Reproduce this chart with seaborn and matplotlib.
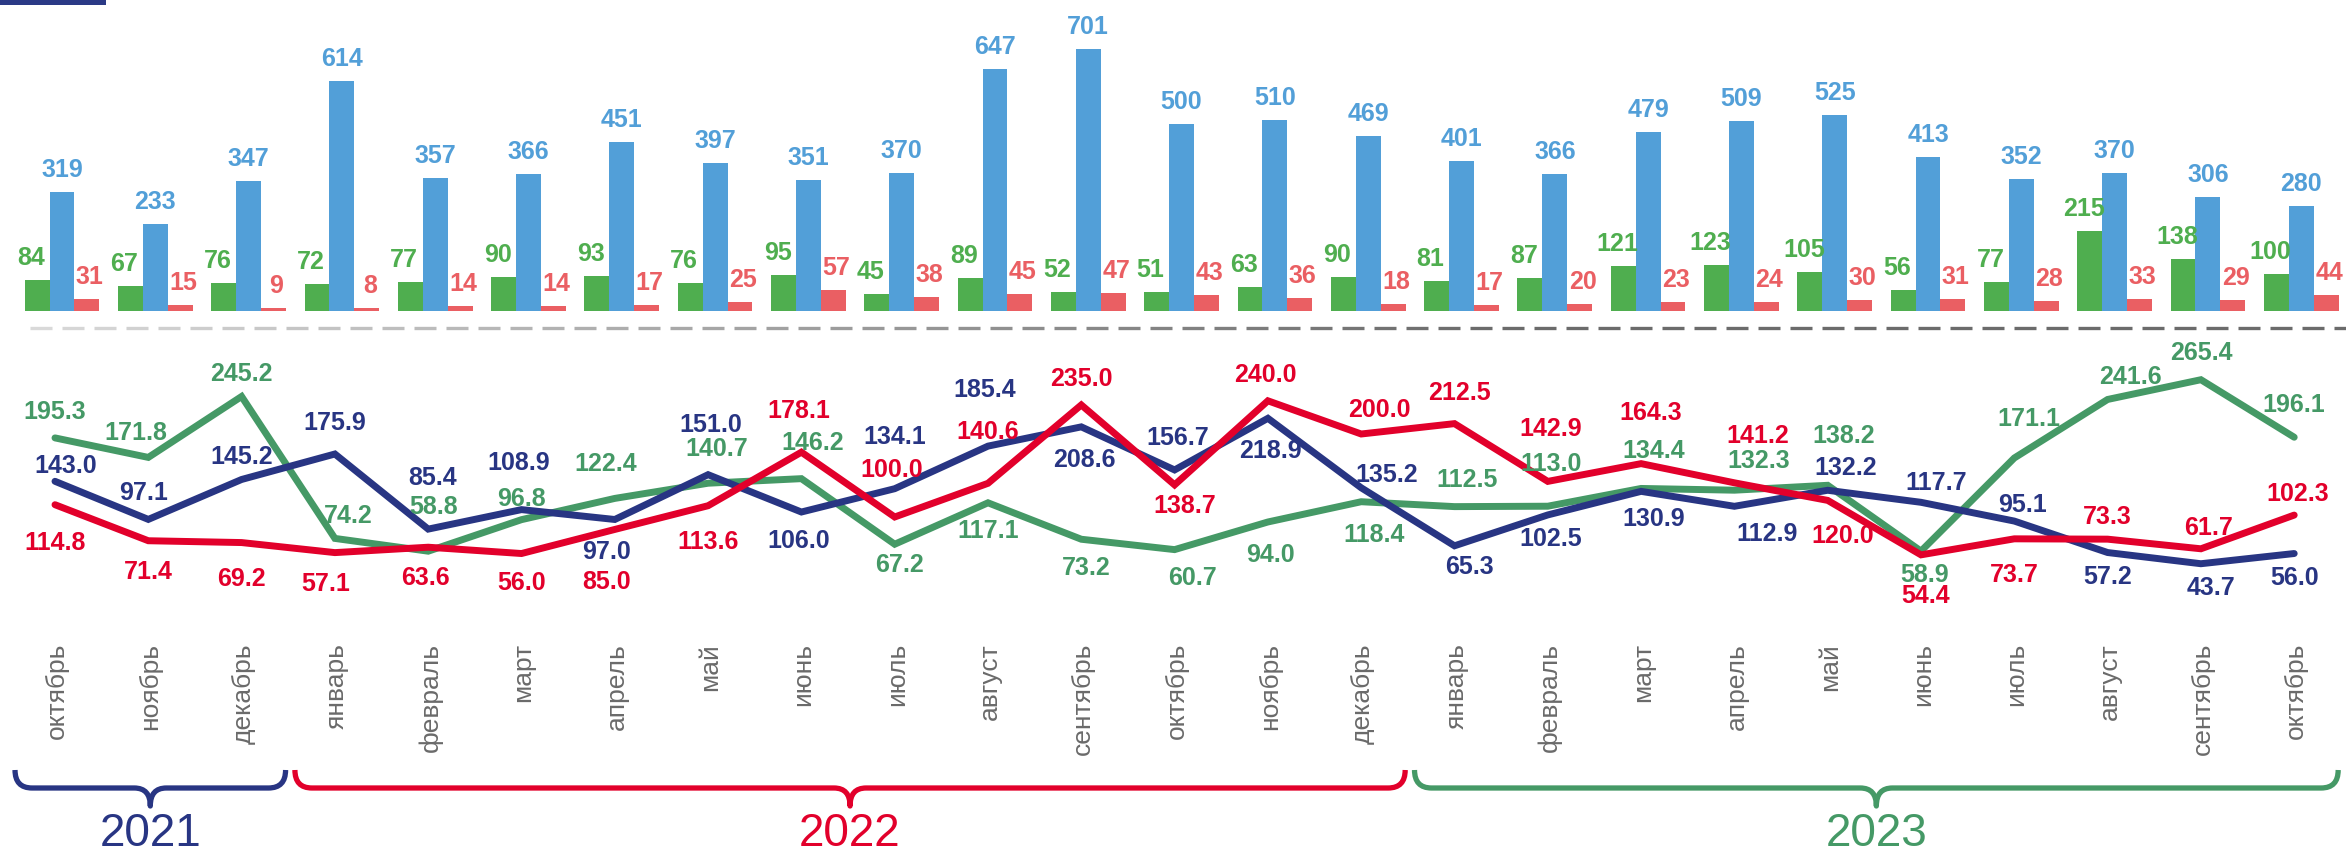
import numpy as np
import pandas as pd
import matplotlib
matplotlib.use("Agg")
import matplotlib.pyplot as plt
import seaborn as sns
from matplotlib.path import Path
from matplotlib.patches import PathPatch, Rectangle
from matplotlib.collections import LineCollection

# --- данные ---
months = ["октябрь", "ноябрь", "декабрь", "январь", "февраль", "март", "апрель",
          "май", "июнь", "июль", "август", "сентябрь", "октябрь", "ноябрь", "декабрь",
          "январь", "февраль", "март", "апрель", "май", "июнь", "июль", "август",
          "сентябрь", "октябрь"]
year_spans = [("2021", 0, 2), ("2022", 3, 14), ("2023", 15, 24)]

bars_green = [84, 67, 76, 72, 77, 90, 93, 76, 95, 45, 89, 52, 51, 63, 90, 81, 87,
              121, 123, 105, 56, 77, 215, 138, 100]
bars_blue = [319, 233, 347, 614, 357, 366, 451, 397, 351, 370, 647, 701, 500, 510,
             469, 401, 366, 479, 509, 525, 413, 352, 370, 306, 280]
bars_red = [31, 15, 9, 8, 14, 14, 17, 25, 57, 38, 45, 47, 43, 36, 18, 17, 20, 23,
            24, 30, 31, 28, 33, 29, 44]

line_navy = [143.0, 97.1, 145.2, 175.9, 85.4, 108.9, 97.0, 151.0, 106.0, 134.1,
             185.4, 208.6, 156.7, 218.9, 135.2, 65.3, 102.5, 130.9, 112.9, 132.2,
             117.7, 95.1, 57.2, 43.7, 56.0]
line_red = [114.8, 71.4, 69.2, 57.1, 63.6, 56.0, 85.0, 113.6, 178.1, 100.0, 140.6,
            235.0, 138.7, 240.0, 200.0, 212.5, 142.9, 164.3, 141.2, 120.0, 54.4,
            73.7, 73.3, 61.7, 102.3]
line_green = [195.3, 171.8, 245.2, 74.2, 58.8, 96.8, 122.4, 140.7, 146.2, 67.2,
              117.1, 73.2, 60.7, 94.0, 118.4, 112.5, 113.0, 134.4, 132.3, 138.2,
              58.9, 171.1, 241.6, 265.4, 196.1]

# --- оформление ---
bar_colors = {"green": "#4fae4f", "blue": "#529fd8", "red": "#ea5f63"}
bar_label_dx = {"green": -6, "blue": 0, "red": 3}
line_colors = {"green": "#459966", "navy": "#283583", "red": "#e2002b"}
year_colors = ["#283583", "#e2002b", "#459966"]

# смещения подписей линий (пиксели: dx, dy вверх)
off_green = [(0, 27), (-12, 25), (0, 23), (13, 23), (5, 45), (0, 22), (-9, 35), (9, 35),
             (11, 37), (5, -20), (0, -27), (5, -28), (18, -27), (3, -32), (13, -32),
             (13, 28), (3, 43), (13, 38), (24, 30), (16, 50), (4, -23), (15, 40),
             (23, 23), (0, 28), (0, 33)]
off_navy = [(11, 16), (-5, 27), (0, 23), (0, 32), (4, 52), (-3, 48), (-8, -32), (3, 51),
            (-3, -28), (0, 53), (-3, 57), (3, -32), (3, 33), (3, -32), (25, 14),
            (15, -20), (3, -23), (13, -27), (33, -27), (18, 23), (15, 20), (8, 17),
            (0, -23), (10, -23), (0, -23)]
off_red = [(0, -37), (0, -30), (0, -35), (-9, -30), (-3, -30), (0, -28), (-8, -52),
           (0, -35), (-3, 42), (-3, 48), (0, 52), (0, 27), (10, -20), (-3, 27),
           (18, 25), (5, 32), (3, 53), (10, 52), (23, 48), (15, -35), (5, -40),
           (0, -35), (0, 23), (8, 22), (3, 22)]

sns.set_style("white")
plt.rcParams["font.family"] = ["Liberation Sans", "DejaVu Sans"]

W, H = 2346, 853
STEP = 93.3
n = len(months)

fig = plt.figure(figsize=(W / 100, H / 100), dpi=100)

# столбцы
ax_bar = fig.add_axes([0, 1 - 312 / H, 1, 312 / H])
bar_df = pd.DataFrame({
    "idx": np.tile(np.arange(n), 3),
    "value": bars_green + bars_blue + bars_red,
    "series": ["green"] * n + ["blue"] * n + ["red"] * n,
})
sns.barplot(data=bar_df, x="idx", y="value", hue="series",
            hue_order=["green", "blue", "red"], palette=bar_colors,
            saturation=1, width=0.8, errorbar=None, legend=False,
            linewidth=0, ax=ax_bar)
ax_bar.set_xlim(-62 / STEP, (W - 62) / STEP)
ax_bar.set_ylim(0, 312 / 0.3738)
ax_bar.axis("off")
for cont, s in zip(ax_bar.containers, ["green", "blue", "red"]):
    for b in cont:
        h = b.get_height()
        ax_bar.annotate(f"{h:.0f}", (b.get_x() + b.get_width() / 2, h),
                        xytext=(bar_label_dx[s], 16), textcoords="offset pixels",
                        ha="center", va="baseline", fontsize=18, fontweight="bold",
                        color=bar_colors[s], annotation_clip=False)

# линии
ax_line = fig.add_axes([0, 1 - 601 / H, 1, 261 / H])
line_df = pd.DataFrame({
    "idx": np.tile(np.arange(n), 3),
    "value": line_green + line_navy + line_red,
    "series": ["green"] * n + ["navy"] * n + ["red"] * n,
})
sns.lineplot(data=line_df, x="idx", y="value", hue="series",
             hue_order=["green", "navy", "red"], palette=line_colors,
             linewidth=5, legend=False, sort=False, ax=ax_line,
             solid_capstyle="round", solid_joinstyle="miter")
ax_line.set_xlim(-55 / STEP, (W - 55) / STEP)
ax_line.set_ylim(0, 261 / 0.83)
ax_line.axis("off")
for vals, offs, s in [(line_green, off_green, "green"), (line_navy, off_navy, "navy"),
                      (line_red, off_red, "red")]:
    for i, (v, (dx, dy)) in enumerate(zip(vals, offs)):
        ax_line.annotate(f"{v:.1f}", (i, v), xytext=(dx, dy), textcoords="offset pixels",
                         ha="center", va="center", fontsize=18, fontweight="bold",
                         color=line_colors[s], annotation_clip=False)

# подписи месяцев, скобки, годы
ax_dec = fig.add_axes([0, 0, 1, 1], zorder=-1)
ax_dec.set_xlim(-57 / STEP, (W - 57) / STEP)
ax_dec.set_ylim(H, 0)
ax_dec.axis("off")

for i, m in enumerate(months):
    ax_dec.text(i, 643, m, rotation=90, ha="center", va="top", fontsize=19,
                color="#6a6a6a")

rx, rt = 17 / STEP, 16 / STEP
y_top, y_h, y_tip = 771, 789, 807
for (label, a, b), col in zip(year_spans, year_colors):
    x0, x1, xm = a - 0.45, b + 0.45, (a + b) / 2
    verts = [(x0, y_top), (x0, y_h), (x0 + rx, y_h), (xm - rt, y_h),
             (xm, y_h), (xm, y_tip), (xm, y_h), (xm + rt, y_h),
             (x1 - rx, y_h), (x1, y_h), (x1, y_top)]
    codes = [Path.MOVETO, Path.CURVE3, Path.CURVE3, Path.LINETO,
             Path.CURVE3, Path.CURVE3, Path.CURVE3, Path.CURVE3,
             Path.LINETO, Path.CURVE3, Path.CURVE3]
    ax_dec.add_patch(PathPatch(Path(verts, codes), fill=False, edgecolor=col,
                               linewidth=3.8, capstyle="butt", joinstyle="round"))
    ax_dec.text(xm, 846, label, ha="center", va="baseline", fontsize=33, color=col)

# пунктир-разделитель с градиентом
dash, gap = 22, 10
starts = np.arange(30, W, dash + gap)
segs = [[((s - 57) / STEP, 329), ((min(s + dash, W) - 57) / STEP, 329)] for s in starts]
t = (starts - starts.min()) / (starts.max() - starts.min())
light, dark = np.array([0.85, 0.85, 0.85]), np.array([0.42, 0.42, 0.42])
cols = [tuple(light + (dark - light) * min(1, k * 1.6)) for k in t]
ax_dec.add_collection(LineCollection(segs, colors=cols, linewidths=2.4, capstyle="butt"))

# синяя плашка в левом верхнем углу
fig.patches.append(Rectangle((0, 1 - 6 / H), 106 / W, 6 / H, transform=fig.transFigure,
                             facecolor="#2b3a86", edgecolor="none"))

fig.savefig("out.png", dpi=100)
